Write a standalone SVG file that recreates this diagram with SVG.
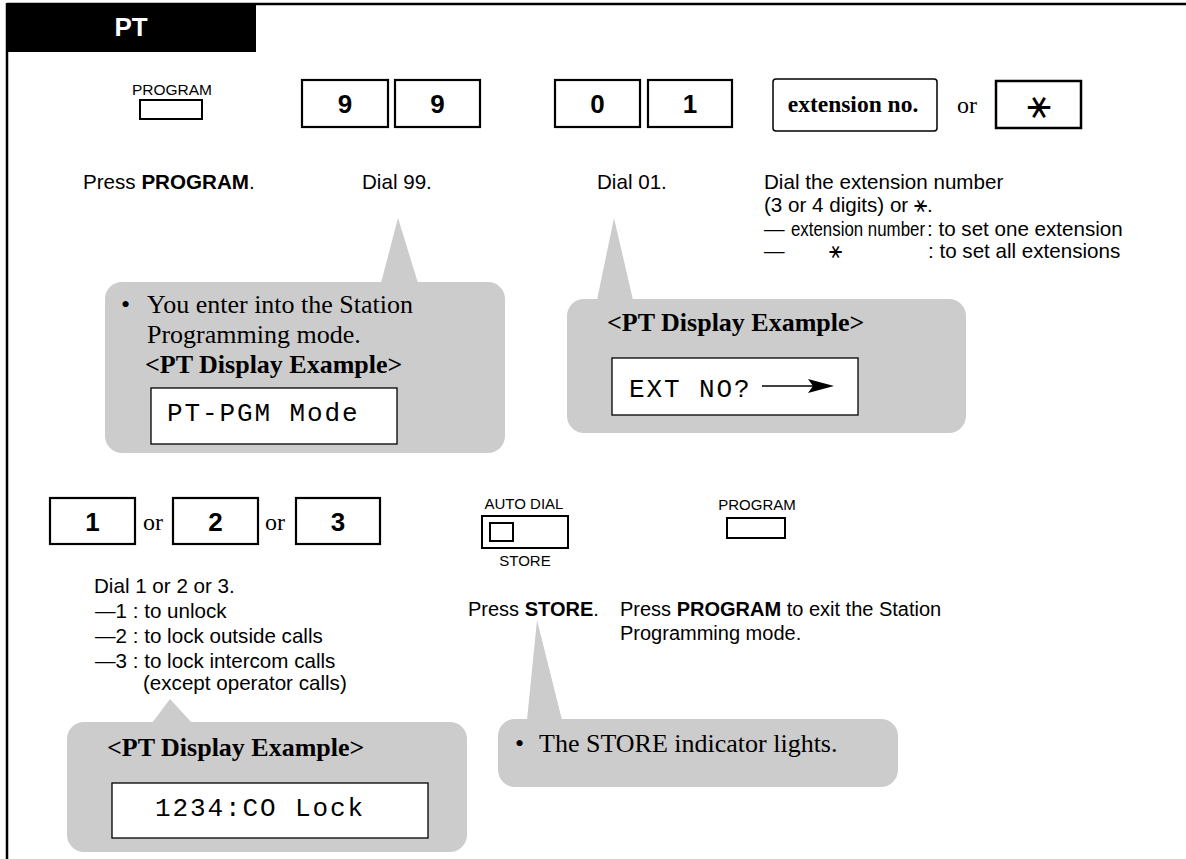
<svg xmlns="http://www.w3.org/2000/svg" width="1186" height="859" viewBox="0 0 1186 859">
<style>
.lbl{font-family:"Liberation Sans",Arial,sans-serif;font-size:20px;fill:#000}
.lbl2{font-family:"Liberation Sans",Arial,sans-serif;font-size:20.6px;fill:#000}
.sm{font-family:"Liberation Sans",Arial,sans-serif;font-size:15px;fill:#000}
.key{fill:#fff;stroke:#000;stroke-width:2.2}
.digit{font-family:"Liberation Sans",Arial,sans-serif;font-size:26px;font-weight:bold;text-anchor:middle;fill:#000}
.or{font-family:"Liberation Serif","Times New Roman",serif;font-size:24px;fill:#000}
.btn{fill:#fff;stroke:#000;stroke-width:2}
.call{fill:#cccccc}
.ser{font-family:"Liberation Serif","Times New Roman",serif;font-size:26px;fill:#000}
.serb{font-family:"Liberation Serif","Times New Roman",serif;font-size:26px;font-weight:bold;fill:#000}
.disp{fill:#fff;stroke:#000;stroke-width:1.3}
.mono{font-family:"Liberation Mono","Courier New",monospace;font-size:26px;letter-spacing:1.9px;fill:#000}
.star{font-family:"DejaVu Sans",sans-serif;fill:#000}
</style>

<g id="frame">
  <line x1="7" y1="4" x2="1186" y2="4" stroke="#000" stroke-width="2.5"/>
  <line x1="7" y1="3" x2="7" y2="859" stroke="#000" stroke-width="2.5"/>
  <rect x="7" y="4" width="249" height="48" fill="#000"/>
  <text x="131" y="36" text-anchor="middle" font-family="Liberation Sans,Arial,sans-serif" font-size="26" font-weight="bold" fill="#fff">PT</text>
</g>

<g id="connectors">
  <polygon class="call" points="381,283 398,218 418,283"/>
  <polygon class="call" points="597,300 614,218 633,300"/>
  <polygon class="call" points="152,723 170,699 192,723"/>
  <polygon class="call" points="527,720 537,620 562,720"/>
</g>

<g id="step-program">
  <text class="sm" x="172" y="95" text-anchor="middle" textLength="80" lengthAdjust="spacingAndGlyphs">PROGRAM</text>
  <rect class="btn" x="140" y="100" width="62" height="19"/>
  <text class="lbl2" x="83" y="189">Press <tspan font-weight="bold">PROGRAM</tspan>.</text>
</g>

<g id="step-99">
  <rect class="key" x="302" y="80" width="86" height="47"/>
  <text class="digit" x="345" y="113">9</text>
  <rect class="key" x="395" y="80" width="85" height="47"/>
  <text class="digit" x="437.5" y="113">9</text>
  <text class="lbl2" x="362" y="189">Dial 99.</text>
</g>

<g id="step-01">
  <rect class="key" x="555" y="80" width="85" height="47"/>
  <text class="digit" x="597.5" y="113">0</text>
  <rect class="key" x="648" y="80" width="84" height="47"/>
  <text class="digit" x="690" y="113">1</text>
  <text class="lbl2" x="597" y="189">Dial 01.</text>
</g>

<g id="step-ext">
  <rect x="773" y="79" width="164" height="52" rx="3" fill="#fff" stroke="#000" stroke-width="1.5"/>
  <text x="853" y="112" text-anchor="middle" font-family="Liberation Serif,Times New Roman,serif" font-size="23.5" font-weight="bold">extension no.</text>
  <text class="or" x="957" y="113">or</text>
  <rect x="996" y="81" width="85" height="47" fill="#fff" stroke="#000" stroke-width="2.5"/>
  <text class="star" x="1038.5" y="118" font-size="40" text-anchor="middle">⚹</text>
  <text class="lbl2" x="764" y="189">Dial the extension number</text>
  <text class="lbl2" x="764" y="212">(3 or 4 digits) or <tspan class="star" font-size="22">⚹</tspan>.</text>
  <text class="lbl2" x="764" y="236">—</text>
  <text class="lbl2" x="791" y="236" textLength="134" lengthAdjust="spacingAndGlyphs">extension number</text>
  <text class="lbl2" x="927" y="236">: to set one extension</text>
  <text class="lbl2" x="764" y="258">—</text>
  <text class="star" x="835" y="258" font-size="22" text-anchor="middle">⚹</text>
  <text class="lbl2" x="928" y="258">: to set all extensions</text>
</g>

<g id="callout-ptpgm">
  <rect class="call" x="105" y="282" width="400" height="171" rx="17"/>
  <text class="ser" x="121" y="313">•</text>
  <text class="ser" x="147" y="313">You enter into the Station</text>
  <text class="ser" x="147" y="343">Programming mode.</text>
  <text class="serb" x="145" y="373">&lt;PT Display Example&gt;</text>
  <rect class="disp" x="151" y="388" width="246" height="56"/>
  <text class="mono" x="167" y="421">PT-PGM Mode</text>
</g>

<g id="callout-extno">
  <rect class="call" x="567" y="299" width="399" height="134" rx="17"/>
  <text class="serb" x="607" y="331">&lt;PT Display Example&gt;</text>
  <rect class="disp" x="612" y="358" width="246" height="57"/>
  <text class="mono" x="629" y="397">EXT NO?</text>
  <line x1="762" y1="386" x2="818" y2="386" stroke="#000" stroke-width="1.5"/>
  <polygon points="834,386 808,379 813,386 808,393" fill="#000"/>
</g>

<g id="step-123">
  <rect class="key" x="50" y="498" width="85" height="46"/>
  <text class="digit" x="92.5" y="531">1</text>
  <text class="or" x="143" y="530">or</text>
  <rect class="key" x="173" y="498" width="85" height="46"/>
  <text class="digit" x="215.5" y="531">2</text>
  <text class="or" x="265" y="530">or</text>
  <rect class="key" x="296" y="498" width="84" height="46"/>
  <text class="digit" x="338" y="531">3</text>
  <text class="lbl2" x="94" y="593">Dial 1 or 2 or 3.</text>
  <text class="lbl2" x="95" y="618">—1 : to unlock</text>
  <text class="lbl2" x="95" y="643">—2 : to lock outside calls</text>
  <text class="lbl2" x="95" y="668">—3 : to lock intercom calls</text>
  <text class="lbl2" x="143" y="690">(except operator calls)</text>
</g>

<g id="step-store">
  <text class="sm" x="524" y="509" text-anchor="middle">AUTO DIAL</text>
  <rect class="btn" x="482" y="516" width="86" height="32"/>
  <rect class="btn" x="490" y="523" width="23" height="18"/>
  <text class="sm" x="525" y="566" text-anchor="middle">STORE</text>
  <text class="lbl" x="468" y="616">Press <tspan font-weight="bold">STORE</tspan>.</text>
</g>

<g id="step-exit">
  <text class="sm" x="757" y="510" text-anchor="middle">PROGRAM</text>
  <rect class="btn" x="727" y="518" width="58" height="20"/>
  <text class="lbl" x="620" y="616">Press <tspan font-weight="bold">PROGRAM</tspan> to exit the Station</text>
  <text class="lbl" x="620" y="640">Programming mode.</text>
</g>

<g id="callout-colock">
  <rect class="call" x="67" y="722" width="400" height="130" rx="17"/>
  <text class="serb" x="107" y="756">&lt;PT Display Example&gt;</text>
  <rect class="disp" x="112" y="783" width="316" height="55"/>
  <text class="mono" x="155" y="816">1234:CO Lock</text>
</g>

<g id="callout-store">
  <rect class="call" x="498" y="719" width="400" height="68" rx="17"/>
  <text class="ser" x="515" y="752">•</text>
  <text class="ser" x="539" y="752">The STORE indicator lights.</text>
</g>
</svg>
